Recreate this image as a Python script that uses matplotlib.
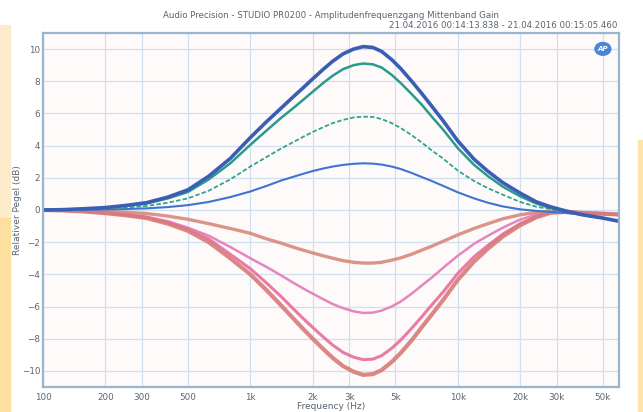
import matplotlib

matplotlib.use("Agg")
import matplotlib.pyplot as plt
from matplotlib.patches import Rectangle, Ellipse

freq_hz = [100, 125, 160, 200, 250, 315, 400, 500, 630, 800, 1000, 1200, 1400, 1600,
           1800, 2000, 2250, 2500, 2800, 3150, 3500, 3900, 4300, 4800, 5300, 6000,
           6700, 7500, 8500, 10000, 12000, 14000, 16500, 20000, 24000, 28000, 33000,
           40000, 50000, 60000]

# boost curves (dB)
boost_10 = [0, 0.02, 0.08, 0.15, 0.28, 0.45, 0.8, 1.25, 2.1, 3.2, 4.5, 5.5, 6.3, 7.0,
            7.6, 8.15, 8.75, 9.25, 9.7, 10.0, 10.15, 10.1, 9.85, 9.35, 8.8, 8.0,
            7.25, 6.45, 5.55, 4.3, 3.15, 2.4, 1.7, 1.05, 0.5, 0.2, -0.05,
            -0.3, -0.5, -0.7]
boost_9 = [0, 0.02, 0.07, 0.13, 0.25, 0.4, 0.72, 1.12, 1.9, 2.9, 4.05, 4.95, 5.7, 6.3,
           6.85, 7.35, 7.9, 8.35, 8.75, 9.0, 9.1, 9.05, 8.85, 8.4, 7.9, 7.2,
           6.55, 5.8, 5.0, 3.85, 2.8, 2.1, 1.45, 0.85, 0.4, 0.12, -0.08,
           -0.3, -0.5, -0.7]
boost_6 = [0, 0.01, 0.04, 0.08, 0.15, 0.25, 0.45, 0.72, 1.2, 1.9, 2.7, 3.3, 3.8, 4.2,
           4.55, 4.85, 5.15, 5.4, 5.6, 5.75, 5.8, 5.78, 5.65, 5.4, 5.1, 4.65,
           4.2, 3.7, 3.2, 2.45, 1.8, 1.35, 0.95, 0.5, 0.2, 0.05, -0.1,
           -0.3, -0.5, -0.7]
boost_3 = [0, 0, 0.01, 0.03, 0.06, 0.1, 0.18, 0.3, 0.5, 0.8, 1.15, 1.5, 1.82, 2.05,
           2.25, 2.42, 2.58, 2.7, 2.8, 2.87, 2.9, 2.88, 2.82, 2.7, 2.55, 2.3,
           2.05, 1.8, 1.5, 1.1, 0.72, 0.45, 0.22, 0.04, -0.06, -0.12, -0.18,
           -0.3, -0.5, -0.7]

# cut curves (dB)
cut_3 = [0, -0.01, -0.04, -0.08, -0.14, -0.22, -0.38, -0.58, -0.85, -1.15, -1.45, -1.8,
         -2.05, -2.3, -2.5, -2.67, -2.85, -3.0, -3.15, -3.25, -3.3, -3.3, -3.25, -3.12,
         -2.98, -2.75, -2.5, -2.25, -1.95, -1.55, -1.15, -0.85, -0.55, -0.3, -0.15,
         -0.1, -0.1, -0.18, -0.23, -0.28]
cut_6 = [0, -0.03, -0.08, -0.16, -0.27, -0.42, -0.7, -1.1, -1.6, -2.3, -3.0, -3.55,
         -4.05, -4.5, -4.88, -5.2, -5.55, -5.85, -6.1, -6.3, -6.4, -6.38, -6.25, -6.0,
         -5.7, -5.2, -4.7, -4.2, -3.6, -2.85, -2.1, -1.6, -1.1, -0.6, -0.28,
         -0.15, -0.12, -0.18, -0.23, -0.28]
cut_9 = [0, -0.03, -0.09, -0.18, -0.3, -0.45, -0.78, -1.2, -1.8, -2.75, -3.65, -4.55,
         -5.35, -6.1, -6.75, -7.3, -7.9, -8.4, -8.85, -9.15, -9.3, -9.27, -9.05, -8.6,
         -8.1, -7.35, -6.65, -5.9, -5.1, -3.95, -2.9, -2.2, -1.5, -0.85, -0.4,
         -0.16, -0.12, -0.18, -0.23, -0.28]
cut_10 = [0, -0.03, -0.1, -0.2, -0.33, -0.5, -0.85, -1.3, -2.0, -3.0, -4.0, -5.0,
          -5.9, -6.7, -7.4, -8.0, -8.65, -9.2, -9.7, -10.05, -10.25, -10.2, -9.95, -9.45,
          -8.9, -8.1, -7.3, -6.5, -5.6, -4.35, -3.2, -2.4, -1.65, -0.95, -0.45,
          -0.18, -0.12, -0.18, -0.23, -0.28]

x_ticks = [100, 200, 300, 500, 1000, 2000, 3000, 5000, 10000, 20000, 30000, 50000]
x_tick_labels = ["100", "200", "300", "500", "1k", "2k", "3k", "5k", "10k", "20k", "30k", "50k"]
y_ticks = [-10, -8, -6, -4, -2, 0, 2, 4, 6, 8, 10]

title = "Audio Precision - STUDIO PR0200 - Amplitudenfrequenzgang Mittenband Gain"
subtitle = "21.04.2016 00:14:13.838 - 21.04.2016 00:15:05.460"

fig = plt.figure(figsize=(6.43, 4.12), dpi=100)
fig.patch.set_facecolor("white")

# yellow page strips from the scan
fig.patches.append(Rectangle((0, 0.47), 0.016, 0.47, transform=fig.transFigure,
                             color="#fdeccb", zorder=0))
fig.patches.append(Rectangle((0, 0.0), 0.016, 0.47, transform=fig.transFigure,
                             color="#fde0a0", zorder=0))
fig.patches.append(Rectangle((0.992, 0.0), 0.008, 0.66, transform=fig.transFigure,
                             color="#fde4a8", zorder=0))

ax = fig.add_axes([0.0669, 0.0607, 0.8958, 0.8593])
ax.set_facecolor("#fffafa")
ax.set_xscale("log")
ax.set_xlim(100, 60000)
ax.set_ylim(-11, 11)

ax.set_xticks(x_ticks)
ax.set_xticklabels(x_tick_labels)
ax.minorticks_off()
ax.set_yticks(y_ticks)
ax.tick_params(length=0, labelsize=6.3, colors="#5a6470")
ax.tick_params(axis="x", pad=4)
ax.tick_params(axis="y", pad=2)
ax.grid(True, color="#cfe0f0", linewidth=0.9)
ax.set_axisbelow(True)
for sp in ax.spines.values():
    sp.set_color("#9ab6cc")
    sp.set_linewidth(1.6)

ax.set_xlabel("Frequency (Hz)", fontsize=6.5, color="#5a6470", labelpad=0)
ax.set_ylabel("Relativer Pegel (dB)", fontsize=6.5, color="#5a6470")
ax.yaxis.set_label_coords(-0.036, 0.5)

# cut curves
ax.plot(freq_hz, cut_3, color="#d68a7c", linewidth=2.4, alpha=0.9)
ax.plot(freq_hz, cut_6, color="#e37ab8", linewidth=1.8, alpha=0.9)
ax.plot(freq_hz, cut_9, color="#e66e9e", linewidth=2.2, alpha=0.9)
ax.plot(freq_hz, cut_10, color="#d77b78", linewidth=3.0, alpha=0.9)

# boost curves
ax.plot(freq_hz, boost_3, color="#3f74d0", linewidth=1.5)
ax.plot(freq_hz, boost_6, color="#2fa58e", linewidth=1.3, linestyle=(0, (2.5, 1.2)))
ax.plot(freq_hz, boost_9, color="#2a9a8c", linewidth=1.8)
ax.plot(freq_hz, boost_10, color="#3a5eb4", linewidth=2.6)

# AP logo
ax.add_patch(Ellipse((0.972, 0.955), 0.03, 0.04, transform=ax.transAxes,
                     facecolor="#4a86d6", edgecolor="none"))
ax.text(0.972, 0.955, "AP", transform=ax.transAxes, fontsize=5, color="white",
        fontweight="bold", fontstyle="italic", ha="center", va="center")

fig.text(0.515, 0.963, title, fontsize=6.2, color="#5a6470", ha="center", va="center")
fig.text(0.96, 0.938, subtitle, fontsize=6.2, color="#5a6470", ha="right", va="center")

fig.savefig("out.png", dpi=100)
